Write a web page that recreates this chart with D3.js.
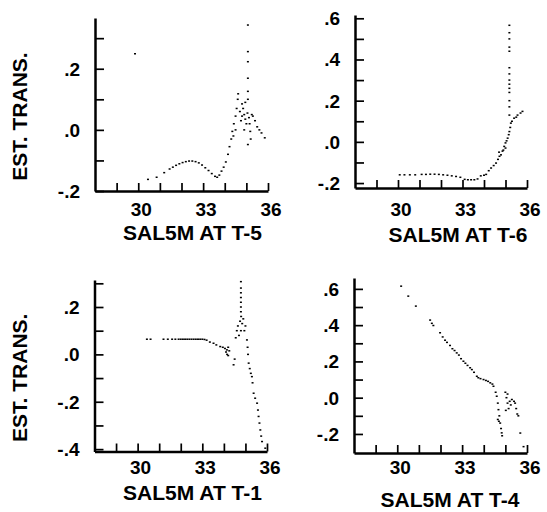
<!DOCTYPE html>
<html>
<head>
<meta charset="utf-8">
<script src="https://cdn.jsdelivr.net/npm/d3@7"></script>
<style>
  body { margin: 0; background: #fff; }
  text { font-family: "Liberation Sans", Arial, Helvetica, sans-serif; font-weight: bold; fill: #000; }
  .axis .domain { stroke: #000; stroke-width: 2.5px; }
  .axis .tick line { stroke: #000; stroke-width: 1.7px; }
</style>
</head>
<body>
<div id="chart"></div>
<script>
// salinity lag (x) vs estimated transform (y)
var ptsT5 = [
  [29.85,0.249],[30.45,-0.162],[30.85,-0.155],[31.2,-0.14],[31.45,-0.128],[31.6,-0.122],[31.75,-0.116],
  [31.9,-0.111],[32.05,-0.107],[32.2,-0.104],[32.35,-0.102],[32.5,-0.102],[32.65,-0.104],[32.8,-0.108],
  [32.95,-0.115],[33.1,-0.124],[33.25,-0.133],[33.4,-0.143],[33.55,-0.152],[33.65,-0.155],[33.75,-0.148],
  [33.85,-0.135],[33.95,-0.122],[34.05,-0.105],[34.15,-0.08],[34.22,-0.055],[34.3,-0.03],[34.35,-0.005],
  [34.42,0.02],[34.5,0.045],[34.55,0.07],[34.6,0.1],[34.62,0.118],[34.7,0.06],[34.75,0.03],[34.8,0.045],
  [34.85,0.07],[34.9,0.05],[34.95,0.035],[35.0,0.02],[34.9,0.0],[35.05,0.055],[34.8,0.085],[34.95,0.09],
  [35.07,0.343],[35.07,0.256],[35.07,0.223],[35.07,0.169],[35.07,0.126],[35.07,0.1],[35.12,0.04],
  [35.15,0.02],[35.18,-0.005],[35.2,-0.03],[35.25,0.05],[35.3,0.045],[35.4,0.03],[35.5,0.01],[35.6,0.0],
  [35.7,-0.01],[35.85,-0.026],[35.07,-0.048],[34.5,0.0],[34.4,-0.02]
];
var ptsT6 = [
  [30.08,-0.16],[30.3,-0.16],[30.55,-0.16],[30.8,-0.16],[31.1,-0.158],[31.3,-0.158],[31.5,-0.157],
  [31.7,-0.157],[31.9,-0.158],[32.1,-0.16],[32.3,-0.162],[32.5,-0.165],[32.7,-0.168],[32.9,-0.172],
  [33.1,-0.182],[33.25,-0.184],[33.4,-0.184],[33.55,-0.184],[33.7,-0.18],[33.85,-0.165],[34.0,-0.162],
  [34.1,-0.158],[34.22,-0.14],[34.33,-0.127],[34.45,-0.115],[34.56,-0.103],[34.65,-0.085],[34.72,-0.07],
  [34.79,-0.063],[34.86,-0.045],[34.94,-0.022],[35.0,-0.005],[35.05,0.005],[35.1,0.018],[35.15,0.035],
  [35.18,0.05],[35.22,0.07],[35.25,0.091],[35.18,0.566],[35.18,0.53],[35.18,0.5],[35.18,0.46],[35.18,0.44],
  [35.18,0.36],[35.18,0.33],[35.18,0.3],[35.18,0.28],[35.18,0.26],[35.18,0.24],[35.18,0.2],[35.18,0.17],
  [35.18,0.13],[35.3,0.1],[35.4,0.115],[35.5,0.12],[35.56,0.13],[35.7,0.14],[35.79,0.148],
  [34.7,-0.05],[34.9,-0.04],[35.0,-0.03]
];
var ptsT1 = [
  [30.43,0.064],[30.6,0.064],[31.2,0.064],[31.4,0.064],[31.6,0.064],[31.75,0.064],[31.9,0.064],[32.0,0.064],
  [32.1,0.064],[32.2,0.064],[32.3,0.064],[32.4,0.064],[32.5,0.064],[32.6,0.064],[32.7,0.064],[32.8,0.064],
  [32.9,0.064],[33.0,0.064],[33.1,0.063],[33.2,0.06],[33.35,0.052],[33.52,0.047],[33.65,0.04],[33.83,0.033],
  [33.95,0.03],[34.05,0.025],[34.14,0.019],[34.1,0.01],[34.15,0.0],[34.2,0.03],[34.25,0.015],[34.2,-0.005],
  [34.45,-0.044],[34.5,-0.02],[34.6,0.1],[34.65,0.12],[34.7,0.08],[34.75,0.14],[34.8,0.16],[34.85,0.13],
  [34.9,0.15],[34.95,0.1],[35.0,0.12],[34.55,0.07],[34.79,0.307],[34.79,0.28],[34.79,0.26],[34.79,0.24],
  [34.79,0.22],[34.79,0.2],[34.79,0.18],[34.79,0.1],[35.07,0.061],[35.1,0.03],[35.12,0.0],[35.15,-0.037],
  [35.2,-0.06],[35.25,-0.08],[35.3,-0.094],[35.33,-0.12],[35.38,-0.164],[35.45,-0.185],[35.54,-0.206],
  [35.58,-0.235],[35.61,-0.262],[35.65,-0.29],[35.69,-0.319],[35.73,-0.345],[35.77,-0.368],[35.92,-0.396]
];
var ptsT4 = [
  [30.18,0.615],[30.51,0.56],[30.86,0.505],[31.52,0.428],[31.6,0.41],[31.67,0.398],[31.98,0.358],[32.1,0.335],
  [32.21,0.317],[32.3,0.305],[32.44,0.288],[32.55,0.27],[32.65,0.26],[32.75,0.247],[32.85,0.235],[32.95,0.215],
  [33.06,0.201],[33.15,0.19],[33.25,0.178],[33.37,0.165],[33.45,0.155],[33.55,0.14],[33.68,0.118],[33.75,0.11],
  [33.85,0.105],[33.99,0.1],[34.1,0.095],[34.2,0.09],[34.3,0.082],[34.4,0.075],[34.45,0.063],[34.55,0.03],
  [34.6,0.008],[34.65,-0.03],[34.68,-0.066],[34.72,-0.1],[34.76,-0.14],[34.8,-0.17],[34.83,-0.194],[34.85,-0.21],
  [34.65,-0.12],[34.7,-0.13],[35.0,0.03],[35.05,0.0],[35.1,-0.03],[35.15,-0.06],[35.2,-0.02],[35.25,-0.04],
  [35.3,-0.01],[35.4,-0.02],[35.45,-0.03],[35.5,-0.06],[35.55,-0.09],[35.6,-0.1],[35.02,-0.07],[35.1,0.02],
  [35.69,-0.195],[35.84,-0.27]
];

var xTicks = [29, 30, 31, 32, 33, 34, 35, 36];
var xTickLabels = [30, 33, 36];
var yTicksT5 = [-0.2, -0.1, 0, 0.1, 0.2, 0.3];
var yLabelsT5 = [-0.2, 0, 0.2];
var yTicksT6 = [-0.2, -0.1, 0, 0.1, 0.2, 0.3, 0.4, 0.5, 0.6];
var yLabelsT6 = [-0.2, 0, 0.2, 0.4, 0.6];
var yTicksT1 = [-0.4, -0.3, -0.2, -0.1, 0, 0.1, 0.2, 0.3];
var yLabelsT1 = [-0.4, -0.2, 0, 0.2];
var yTicksT4 = [-0.2, -0.1, 0, 0.1, 0.2, 0.3, 0.4, 0.5, 0.6];
var yLabelsT4 = [-0.2, 0, 0.2, 0.4, 0.6];

var panels = [
  { pts: ptsT5, yt: yTicksT5, yl: yLabelsT5, ydom: [-0.2, 0.366], title: "SAL5M AT T-5", ylab: true,
    x0: 95, x1: 268, yb: 191, yt0: 18, lblY: 215.5, titX: 192.5, titY: 240 },
  { pts: ptsT6, yt: yTicksT6, yl: yLabelsT6, ydom: [-0.224, 0.616], title: "SAL5M AT T-6", ylab: false,
    x0: 355, x1: 527, yb: 188, yt0: 15, lblY: 215.5, titX: 458, titY: 241.5 },
  { pts: ptsT1, yt: yTicksT1, yl: yLabelsT1, ydom: [-0.41, 0.314], title: "SAL5M AT T-1", ylab: true,
    x0: 94.5, x1: 267, yb: 451.5, yt0: 280, lblY: 474, titX: 192.5, titY: 500 },
  { pts: ptsT4, yt: yTicksT4, yl: yLabelsT4, ydom: [-0.305, 0.66], title: "SAL5M AT T-4", ylab: false,
    x0: 354, x1: 527, yb: 453, yt0: 278, lblY: 473.5, titX: 450, titY: 507 }
];

function fmt(v) {
  var s = d3.format(".1f")(Math.abs(v)).replace(/^0/, "");
  return (v < 0 ? "-" : "") + s;
}

var svg = d3.select("#chart").append("svg")
    .attr("width", 547)
    .attr("height", 512);

panels.forEach(function(p) {
  var x = d3.scaleLinear().domain([28, 36]).range([p.x0, p.x1]);
  var y = d3.scaleLinear().domain(p.ydom).range([p.yb, p.yt0]);
  var g = svg.append("g");

  // axes with inward ticks, labels drawn separately
  g.append("g")
    .attr("class", "axis")
    .attr("transform", "translate(" + p.x0 + ",0)")
    .call(d3.axisLeft(y).tickValues(p.yt).tickSizeInner(-9).tickSizeOuter(0).tickFormat(""));
  g.append("g")
    .attr("class", "axis")
    .attr("transform", "translate(0," + p.yb + ")")
    .call(d3.axisBottom(x).tickValues(xTicks).tickSizeInner(-8).tickSizeOuter(0).tickFormat(""));

  // tick labels
  g.selectAll(".xl").data(xTickLabels).enter().append("text")
    .attr("x", function(d) { return x(d) + 3; })
    .attr("y", p.lblY)
    .attr("text-anchor", "middle")
    .style("font-size", "19px")
    .text(function(d) { return d; });
  g.selectAll(".yl").data(p.yl).enter().append("text")
    .attr("x", p.x0 - 15)
    .attr("y", function(d) { return y(d); })
    .attr("dy", "0.36em")
    .attr("text-anchor", "end")
    .style("font-size", "19px")
    .text(function(d) { return fmt(d); });

  // titles
  g.append("text")
    .attr("x", p.titX).attr("y", p.titY)
    .attr("text-anchor", "middle")
    .style("font-size", "21px")
    .text(p.title);
  if (p.ylab) {
    g.append("text")
      .attr("transform", "translate(27," + ((p.yb + p.yt0) / 2 + 12) + ") rotate(-90)")
      .attr("text-anchor", "middle")
      .style("font-size", "21px")
      .text("EST. TRANS.");
  }

  // points
  g.selectAll(".pt").data(p.pts).enter().append("rect")
    .attr("x", function(d) { return x(d[0]) - 1; })
    .attr("y", function(d) { return y(d[1]) - 0.75; })
    .attr("width", 2)
    .attr("height", 1.5)
    .attr("fill", "#000");
});
</script>
</body>
</html>
